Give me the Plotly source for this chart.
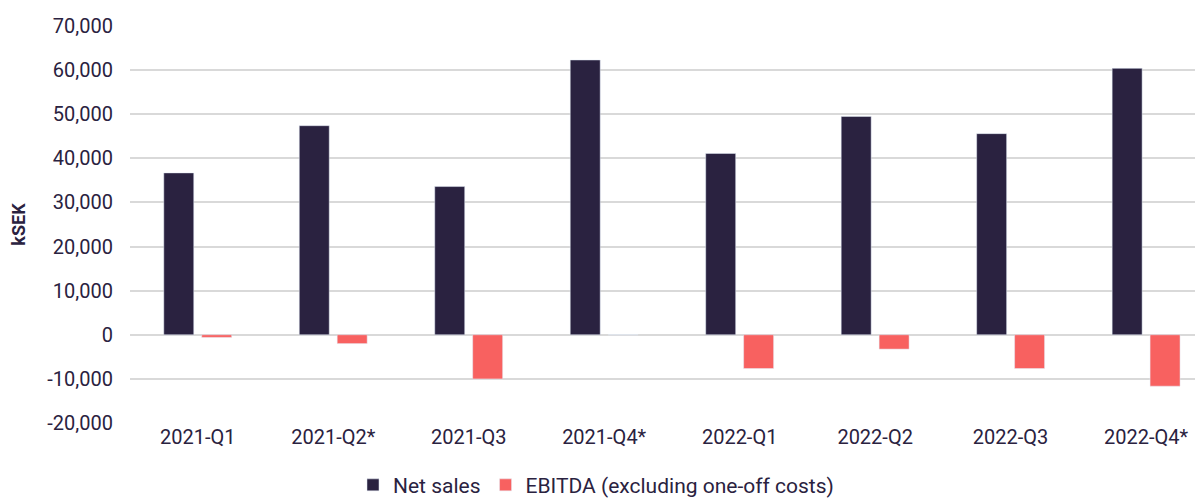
import plotly.graph_objects as go

categories = ["2021-Q1", "2021-Q2*", "2021-Q3", "2021-Q4*", "2022-Q1", "2022-Q2", "2022-Q3", "2022-Q4*"]
net_sales = [36700, 47400, 33600, 62300, 41100, 49500, 45600, 60400]
ebitda = [-600, -2000, -10000, 0, -7650, -3250, -7650, -11650]
tick_vals = [-20000, -10000, 0, 10000, 20000, 30000, 40000, 50000, 60000, 70000]
tick_text = ["-20,000", "-10,000", "0", "10,000", "20,000", "30,000", "40,000", "50,000", "60,000", "70,000"]

navy = "#2a2240"
coral = "#f86160"
font = "Roboto"

fig = go.Figure()
fig.add_trace(go.Bar(x=categories, y=net_sales, name="Net sales", marker_color=navy))
fig.add_trace(go.Bar(x=categories, y=ebitda, name="EBITDA (excluding one-off costs)", marker_color=coral))

fig.update_layout(
    width=1195, height=493,
    margin=dict(l=122, r=0, t=18, b=78, autoexpand=False),
    paper_bgcolor="white", plot_bgcolor="white",
    barmode="group", bargap=0.44, bargroupgap=0.21,
    font=dict(family=font, size=20, color=navy),
    legend=dict(orientation="h", xref="container", x=0.2887, xanchor="left",
                yref="container", y=0.032, yanchor="middle",
                font=dict(size=21, color=navy), itemwidth=30, traceorder="normal"),
    xaxis=dict(range=[-0.5, 7.42], showgrid=False, showline=False, ticks="", automargin=False,
               tickfont=dict(size=20, color=navy)),
    yaxis=dict(range=[-20000, 70000], tickvals=tick_vals, ticktext=tick_text,
               showgrid=True, gridcolor="#d9d9d9", gridwidth=1.5,
               zeroline=True, zerolinecolor="#d9d9d9", zerolinewidth=1.5,
               showline=False, ticks="", ticklabelstandoff=16, automargin=False,
               tickfont=dict(size=20, color=navy),
               title=dict(text="<b>kSEK</b>", font=dict(size=18, color=navy), standoff=20)),
)

fig.write_html("out.html")
